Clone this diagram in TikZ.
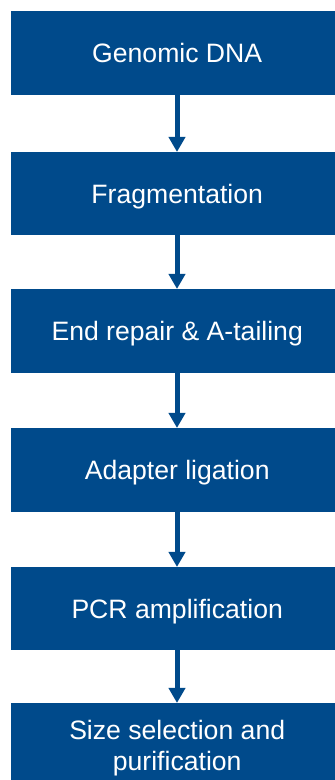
\documentclass[tikz,border=0pt]{standalone}
\usepackage{fontspec}
\setmainfont{Liberation Sans}
\usetikzlibrary{arrows.meta}
\definecolor{boxblue}{RGB}{0,74,139}
\begin{document}
\begin{tikzpicture}[x=1pt,y=1pt,
  stepbox/.style={fill=boxblue,draw=none,text=white,minimum width=332pt,inner sep=0pt,align=center,font=\fontsize{26.6}{31}\selectfont,anchor=north west},
  oneline/.style={text height=19pt,text depth=0pt},
  flowarrow/.style={draw=boxblue,line width=5pt,-{Triangle[width=16pt,length=15pt]},shorten >=0pt}]
\useasboundingbox (0,0) rectangle (335,780);
\clip (0,0) rectangle (335,780);
\node[stepbox,oneline,minimum height=84pt] (b1) at (11,780-11) {Genomic DNA};
\node[stepbox,oneline,minimum height=83pt] (b2) at (11,780-152) {Fragmentation};
\node[stepbox,oneline,minimum height=84pt] (b3) at (11,780-289) {End repair \& A-tailing};
\node[stepbox,oneline,minimum height=84pt] (b4) at (11,780-428) {Adapter ligation};
\node[stepbox,oneline,minimum height=83pt] (b5) at (11,780-567) {PCR amplification};
\node[stepbox,text depth=0pt,minimum height=84pt] (b6) at (11,780-703) {Size selection and\\purification};
\foreach \a/\b in {b1/b2,b2/b3,b3/b4,b4/b5,b5/b6}{
  \draw[flowarrow] (\a.south -| 177,0) -- (\b.north -| 177,0);
}
\end{tikzpicture}
\end{document}
